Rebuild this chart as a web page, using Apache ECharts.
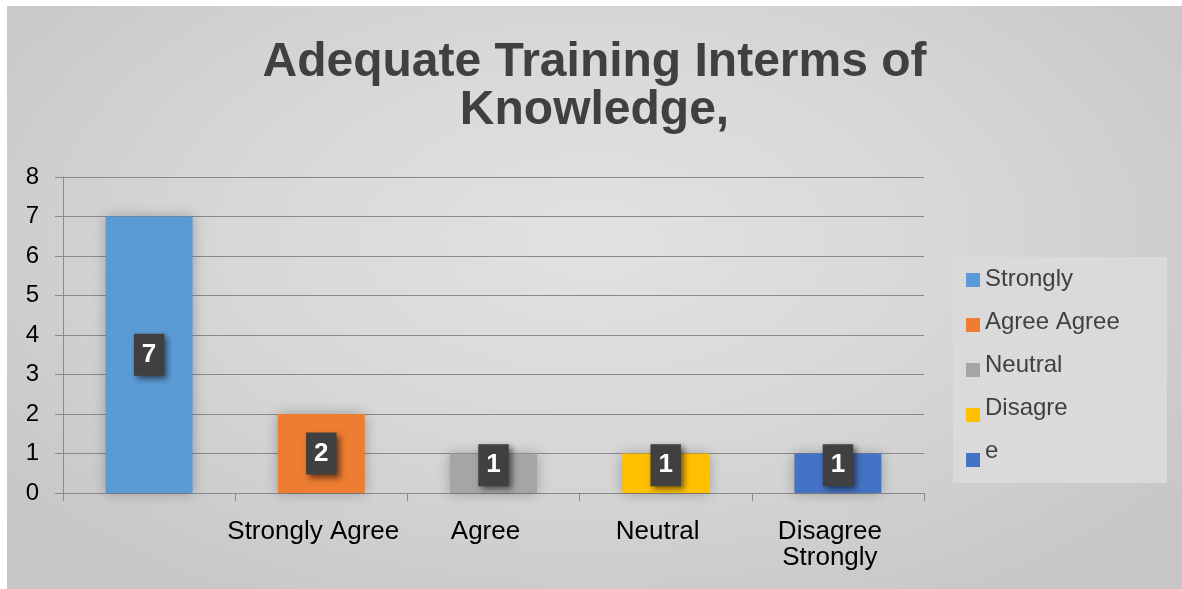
<!DOCTYPE html>
<html>
<head>
<meta charset="utf-8">
<script src="https://cdn.jsdelivr.net/npm/echarts@6/dist/echarts.min.js"></script>
<style>
  html, body { margin: 0; padding: 0; background: #ffffff; }
  #chart {
    position: absolute; left: 7px; top: 6px; width: 1175px; height: 583px;
    background: radial-gradient(ellipse 65% 75% at 50% 40%, #e2e2e2 0%, #d8d8d8 45%, #c6c6c6 100%);
  }
</style>
</head>
<body>
<div id="chart"></div>
<script>
// Survey responses: adequate training in terms of knowledge
const titleText = 'Adequate Training Interms of\nKnowledge,';
const categories = ['', 'Strongly Agree', 'Agree', 'Neutral', 'Disagree\nStrongly'];
const counts = [7, 2, 1, 1, 1];
const barColors = ['#5b9bd5', '#ed7d31', '#a5a5a5', '#ffc000', '#4472c4'];
const legendNames = ['Strongly', 'Agree Agree', 'Neutral', 'Disagre', 'e'];
const yTicks = { min: 0, max: 8, interval: 1 };

const font = "'Liberation Sans', Arial, sans-serif";
const axisGray = '#8a8a8a';

const chart = echarts.init(document.getElementById('chart'));

// bar items: colour per category; short bars push their label box upward
const barData = counts.map((v, i) => ({
  value: v,
  itemStyle: { color: barColors[i] },
  label: { offset: v < 1.5 ? [0, -8] : [0, 0] }
}));

// legend panel drawn as a box with swatches and wrapped names
const legendBox = { x: 946, y: 251, w: 214, h: 226 };
const legendGraphics = [{
  type: 'rect', z: 1,
  shape: { x: legendBox.x, y: legendBox.y, width: legendBox.w, height: legendBox.h },
  style: { fill: '#dadada' }
}];
legendNames.forEach((name, i) => {
  legendGraphics.push({
    type: 'rect', z: 2,
    shape: { x: 959, y: 267 + 45 * i, width: 14, height: 14 },
    style: { fill: barColors[i] }
  });
  legendGraphics.push({
    type: 'text', z: 2, x: 978, y: 273 + 43 * i,
    style: {
      text: name, fill: '#404040', font: '24px ' + font,
      textAlign: 'left', textVerticalAlign: 'middle'
    }
  });
});

chart.setOption({
  animation: false,
  textStyle: { fontFamily: font },
  title: {
    text: titleText,
    left: 'center',
    top: 33,
    padding: 0,
    textStyle: {
      fontSize: 48, fontWeight: 'bold', color: '#404040',
      lineHeight: 48, fontFamily: font
    }
  },
  grid: { left: 56, right: 258, top: 171, bottom: 96 },
  xAxis: {
    type: 'category',
    data: categories,
    axisLine: { lineStyle: { color: axisGray, width: 1 } },
    axisTick: { show: true, length: 8, lineStyle: { color: axisGray } },
    axisLabel: {
      color: '#000000', fontSize: 26, lineHeight: 26, margin: 26,
      interval: 0, padding: [0, 16, 0, 0]
    }
  },
  yAxis: {
    type: 'value',
    min: yTicks.min, max: yTicks.max, interval: yTicks.interval,
    axisLine: { show: true, lineStyle: { color: axisGray, width: 1 } },
    axisTick: { show: true, length: 8, lineStyle: { color: axisGray } },
    axisLabel: { color: '#000000', fontSize: 24, margin: 24 },
    splitLine: { lineStyle: { color: axisGray, width: 1 } }
  },
  graphic: legendGraphics,
  series: [{
    type: 'bar',
    data: barData,
    barWidth: '50.5%',
    itemStyle: {
      shadowBlur: 12, shadowColor: 'rgba(0,0,0,0.28)',
      shadowOffsetX: 0, shadowOffsetY: 0
    },
    label: {
      show: true,
      position: 'inside',
      color: '#ffffff',
      fontSize: 26,
      fontWeight: 'bold',
      lineHeight: 26,
      backgroundColor: '#404040',
      padding: [8, 8],
      shadowBlur: 6,
      shadowColor: 'rgba(0,0,0,0.55)',
      shadowOffsetX: 3,
      shadowOffsetY: 3
    }
  }]
});
</script>
</body>
</html>
